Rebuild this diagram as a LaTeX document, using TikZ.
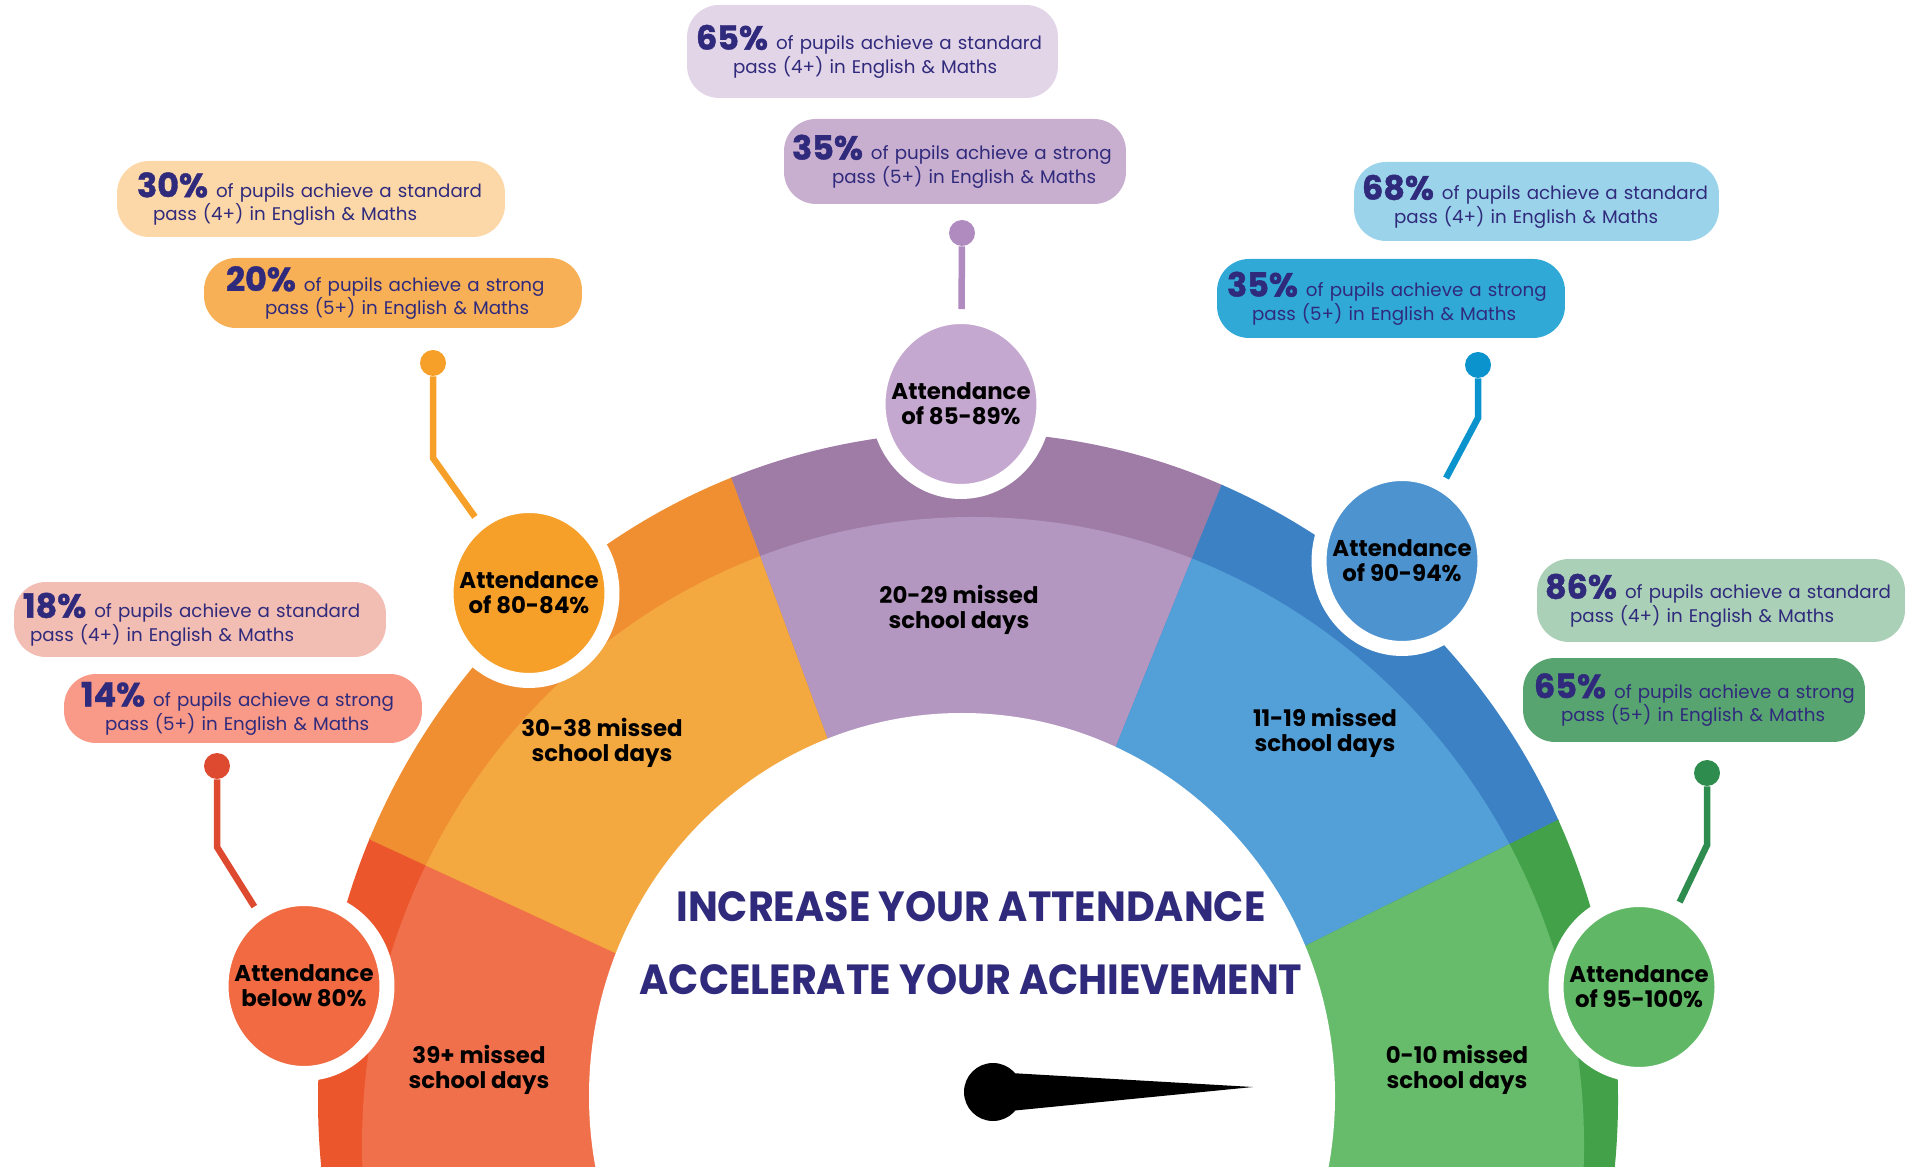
\documentclass[tikz,border=0pt]{standalone}
\usepackage{fontspec}
\setmainfont{Poppins}
\usepackage{tikz}
\usetikzlibrary{shapes.geometric,positioning,calc}

\definecolor{navy}{HTML}{302A7C}
\definecolor{reddark}{HTML}{EC562C}
\definecolor{redlight}{HTML}{F0704C}
\definecolor{redcirc}{HTML}{F16A42}
\definecolor{redline}{HTML}{DE4A2F}
\definecolor{redpale}{HTML}{F2BDB3}
\definecolor{redsoft}{HTML}{F89A87}
\definecolor{orgdark}{HTML}{F08F32}
\definecolor{orglight}{HTML}{F4A840}
\definecolor{orgcirc}{HTML}{F6A02A}
\definecolor{orgpale}{HTML}{FCD7A8}
\definecolor{orgsoft}{HTML}{F7B056}
\definecolor{purdark}{HTML}{9E7CA6}
\definecolor{purlight}{HTML}{B497C0}
\definecolor{purcirc}{HTML}{C5A8CF}
\definecolor{purline}{HTML}{B08BBF}
\definecolor{purpale}{HTML}{E3D5E8}
\definecolor{pursoft}{HTML}{C8AECF}
\definecolor{bludark}{HTML}{3C81C4}
\definecolor{blulight}{HTML}{539FD8}
\definecolor{blucirc}{HTML}{4D93CF}
\definecolor{bluline}{HTML}{0A93CD}
\definecolor{blupale}{HTML}{9BD4EA}
\definecolor{blusoft}{HTML}{30A9D7}
\definecolor{grndark}{HTML}{43A249}
\definecolor{grnlight}{HTML}{66BC6B}
\definecolor{grncirc}{HTML}{60B866}
\definecolor{grnline}{HTML}{2E8C4E}
\definecolor{grnpale}{HTML}{AAD0B7}
\definecolor{grnsoft}{HTML}{57A471}

\newcommand{\stat}[4]{\mbox{{\fontsize{19}{19}\selectfont\bfseries\addfontfeature{FakeBold=1.2}#1}\hspace{0.16cm}of pupils achieve a #2}\\\hspace*{#4}\mbox{pass (#3+) in English \& Maths}}

\begin{document}
\begin{tikzpicture}[x=0.02cm, y=0.02cm,
    bubble/.style={rounded corners=0.64cm, align=left, inner ysep=0pt, text=navy, font=\fontsize{10.4}{12}\selectfont},
    attend/.style={ellipse, draw=white, line width=0.3cm, minimum width=3.32cm, minimum height=3.5cm, inner sep=0pt},
    atttext/.style={align=center, font=\fontsize{13}{14.2}\selectfont\bfseries, text=black},
    missed/.style={align=center, font=\fontsize{13}{14.2}\selectfont\bfseries, text=black},
    dot/.style={circle, minimum size=0.52cm, inner sep=0pt},
    link/.style={line width=0.13cm},
    heading/.style={font=\fontsize{24}{24}\selectfont\bfseries, text=navy}]
    \useasboundingbox (0,0) rectangle (1905,1166);
    \coordinate (P) at (968,51);
    \foreach \a/\b/\dk/\lt in {155.2/200/reddark/redlight, 110.3/155.2/orgdark/orglight, 68/110.3/purdark/purlight, 26.5/68/bludark/blulight, -20/26.5/grndark/grnlight}{
        \begin{scope}
            \clip (968,66) ellipse [x radius=650, y radius=668];
            \path[fill=\dk, draw=\dk, line width=1pt] (P) -- ++(\a:1500) arc [start angle=\a, end angle=\b, radius=1500] -- cycle;
        \end{scope}
        \begin{scope}
            \clip (973,21) ellipse [x radius=611, y radius=628];
            \path[fill=\lt, draw=\lt, line width=1pt] (P) -- ++(\a:1500) arc [start angle=\a, end angle=\b, radius=1500] -- cycle;
        \end{scope}
    }
    \fill[white] (962,70) ellipse [x radius=373, y radius=383];

    \node[heading] (inc) at (971,259) {\scalebox{0.94}[1]{INCREASE YOUR ATTENDANCE}};
    \node[heading] (acc) at (971,186) {\scalebox{0.94}[1]{ACCELERATE YOUR ACHIEVEMENT}};

    \coordinate (pivot) at (993,74);
    \fill (pivot) circle [radius=29];
    \fill ($(pivot)+(17,19)$) -- (1253,79) -- ($(pivot)+(17,-19)$) -- cycle;

    \node[missed] (m39) at (479,96) {39+ missed\\school days};
    \node[missed] (m30) at (602,423) {30-38 missed\\school days};
    \node[missed] (m20) at (959,556) {20-29 missed\\school days};
    \node[missed] (m11) at (1325,433) {11-19 missed\\school days};
    \node[missed] (m0) at (1457,96) {0-10 missed\\school days};

    \node[attend, fill=redcirc] (c80) at (304,180) {};
    \node[atttext] at (c80) {Attendance\\below 80\%};
    \node[attend, fill=orgcirc] (c84) at (529,573) {};
    \node[atttext] at (c84) {Attendance\\of 80-84\%};
    \node[attend, fill=purcirc] (c89) at (961,762) {};
    \node[atttext] at (c89) {Attendance\\of 85-89\%};
    \node[attend, fill=blucirc] (c94) at (1402,605) {};
    \node[atttext] at (c94) {Attendance\\of 90-94\%};
    \node[attend, fill=grncirc] (c100) at (1639,179) {};
    \node[atttext] at (c100) {Attendance\\of 95-100\%};

    \node[bubble, fill=orgpale, minimum height=1.52cm, text width=6.96cm, inner xsep=0.4cm] (b30) at (311,967) {\stat{30\%}{standard}{4}{0.32cm}};
    \node[bubble, fill=orgsoft, minimum height=1.4cm, text width=6.68cm, inner xsep=0.44cm] (b20) at (393,873) {\stat{20\%}{strong}{5}{0.78cm}};
    \node[bubble, fill=redpale, minimum height=1.5cm, text width=7.08cm, inner xsep=0.18cm] (b18) at (200,546.5) {\stat{18\%}{standard}{4}{0.14cm}};
    \node[bubble, fill=redsoft, minimum height=1.38cm, text width=6.48cm, inner xsep=0.34cm] (b14) at (243,457.5) {\stat{14\%}{strong}{5}{0.48cm}};
    \node[bubble, fill=purpale, minimum height=1.86cm, text width=7.06cm, inner xsep=0.18cm] (b65) at (872.5,1114.5) {\stat{65\%}{standard}{4}{0.74cm}};
    \node[bubble, fill=pursoft, minimum height=1.7cm, text width=6.52cm, inner xsep=0.16cm] (b35) at (955,1004.5) {\stat{35\%}{strong}{5}{0.8cm}};
    \node[bubble, fill=blupale, minimum height=1.58cm, text width=6.98cm, inner xsep=0.16cm] (b68) at (1536.5,964.5) {\stat{68\%}{standard}{4}{0.64cm}};
    \node[bubble, fill=blusoft, minimum height=1.58cm, text width=6.56cm, inner xsep=0.2cm] (b35b) at (1391,867.5) {\stat{35\%}{strong}{5}{0.5cm}};
    \node[bubble, fill=grnpale, minimum height=1.66cm, text width=7.04cm, inner xsep=0.16cm] (b86) at (1721,565.5) {\stat{86\%}{standard}{4}{0.5cm}};
    \node[bubble, fill=grnsoft, minimum height=1.68cm, text width=6.4cm, inner xsep=0.22cm] (b65g) at (1694,466) {\stat{65\%}{strong}{5}{0.54cm}};

    \node[dot, fill=redline] (d80) at (217,400) {};
    \coordinate (k80) at (217,319);
    \draw[link, redline] (d80) -- (k80) -- (c80);
    \node[dot, fill=orgcirc] (d84) at (433,803) {};
    \coordinate (k84) at (433,708);
    \draw[link, orgcirc] (d84) -- (k84) -- (c84);
    \node[dot, fill=purline] (d89) at (962,933) {};
    \draw[link, purline] (d89) -- (c89);
    \node[dot, fill=bluline] (d94) at (1478,801) {};
    \coordinate (k94) at (1478,748);
    \draw[link, bluline] (d94) -- (k94) -- (c94);
    \node[dot, fill=grnline] (d100) at (1707,393) {};
    \coordinate (k100) at (1707,321);
    \draw[link, grnline] (d100) -- (k100) -- (c100);
\end{tikzpicture}
\end{document}
